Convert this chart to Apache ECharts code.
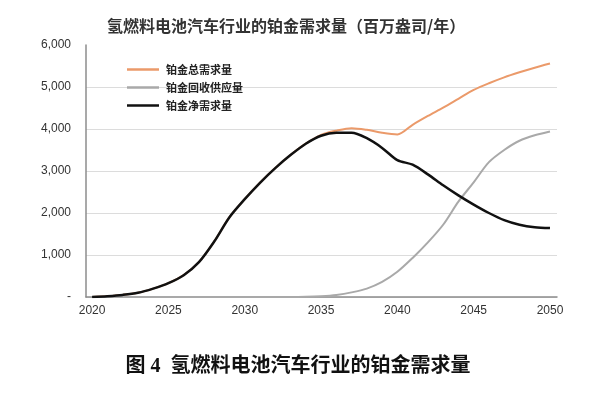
<!DOCTYPE html>
<html>
<head>
<meta charset="utf-8">
<script src="https://cdn.jsdelivr.net/npm/echarts@6/dist/echarts.min.js"></script>
<style>html,body{margin:0;padding:0;background:#fff;}#c{width:596px;height:395px;}</style>
</head>
<body>
<div id="c"></div>
<script>
var years = [2020,2021,2022,2023,2024,2025,2026,2027,2028,2029,2030,2031,2032,2033,2034,2035,2036,2037,2038,2039,2040,2041,2042,2043,2044,2045,2046,2047,2048,2049,2050];
var totalDemand = [0,20,50,100,200,330,520,830,1320,1900,2330,2720,3070,3380,3650,3860,3960,4020,3980,3910,3870,4100,4310,4510,4720,4930,5090,5230,5350,5460,5560];
var recycling = [0,0,0,0,0,0,0,0,0,0,0,0,0,0,5,20,50,110,200,360,600,930,1300,1720,2270,2730,3210,3500,3720,3850,3940];
var netDemand = [0,20,50,100,200,330,520,830,1320,1900,2330,2720,3070,3380,3650,3840,3910,3910,3780,3550,3260,3150,2920,2660,2420,2200,2000,1830,1720,1660,1640];
var xTicks = [2020,2025,2030,2035,2040,2045,2050];
var seriesNames = ['铂金总需求量','铂金回收供应量','铂金净需求量'];
var titleText = '氢燃料电池汽车行业的铂金需求量（百万盎司/年）';
var captionText = '图 4  氢燃料电池汽车行业的铂金需求量';

function pairs(v){ return years.map(function(y,i){ return [y, v[i]]; }); }

var chart = echarts.init(document.getElementById('c'));
chart.setOption({
  backgroundColor: '#fff',
  animation: false,
  title: [{
    text: titleText, left: 102, top: 13,
    textStyle: {fontFamily: 'Noto Sans CJK SC', fontSize: 16, fontWeight: 'bold', color: '#333'}
  },{
    text: captionText, left: 'center', top: 352,
    textStyle: {fontFamily: 'Liberation Serif, Noto Sans CJK SC', fontSize: 20, fontWeight: 'bold', color: '#111'}
  }],
  legend: {
    orient: 'vertical', left: 122, top: 59, itemGap: 7, itemWidth: 32, itemHeight: 12,
    icon: 'path://M0,5 L32,5 L32,7.5 L0,7.5 Z',
    data: seriesNames,
    textStyle: {fontFamily: 'Noto Sans CJK SC', fontSize: 11, fontWeight: 'bold', color: '#222', padding: [0,0,0,2]}
  },
  grid: {left: 86, right: 39, top: 45, bottom: 98},
  xAxis: {
    type: 'value', min: 2019.6, max: 2050.46,
    axisLine: {show: true, lineStyle: {color: '#8c8c8c', width: 1.5}},
    axisTick: {show: false},
    splitLine: {show: false},
    axisLabel: {customValues: xTicks, margin: 8, color: '#333', fontFamily: 'Liberation Sans', fontSize: 12,
      formatter: function(v){ return String(Math.round(v)); }}
  },
  yAxis: {
    type: 'value', min: 0, max: 6000, interval: 1000,
    axisLine: {show: true, lineStyle: {color: '#8c8c8c', width: 1.5}},
    axisTick: {show: false},
    splitLine: {show: true, lineStyle: {color: ['#dcdcdc','#dcdcdc','#dcdcdc','#dcdcdc','#dcdcdc','#dcdcdc','rgba(0,0,0,0)'], width: 1}},
    axisLabel: {margin: 15, color: '#333', fontFamily: 'Liberation Sans', fontSize: 12,
      formatter: function(v){ return v === 0 ? '-' : v.toLocaleString('en-US'); }}
  },
  series: [{
    name: seriesNames[0], type: 'line', data: pairs(totalDemand), symbol: 'none', smooth: 0.3,
    lineStyle: {color: '#eb9a6a', width: 2}, itemStyle: {color: '#eb9a6a'}, z: 2
  },{
    name: seriesNames[1], type: 'line', data: pairs(recycling), symbol: 'none', smooth: 0.3,
    lineStyle: {color: '#a9a9a9', width: 2}, itemStyle: {color: '#a9a9a9'}, z: 3
  },{
    name: seriesNames[2], type: 'line', data: pairs(netDemand), symbol: 'none', smooth: 0.3,
    lineStyle: {color: '#111', width: 2.5}, itemStyle: {color: '#111'}, z: 4
  }]
});
</script>
</body>
</html>
